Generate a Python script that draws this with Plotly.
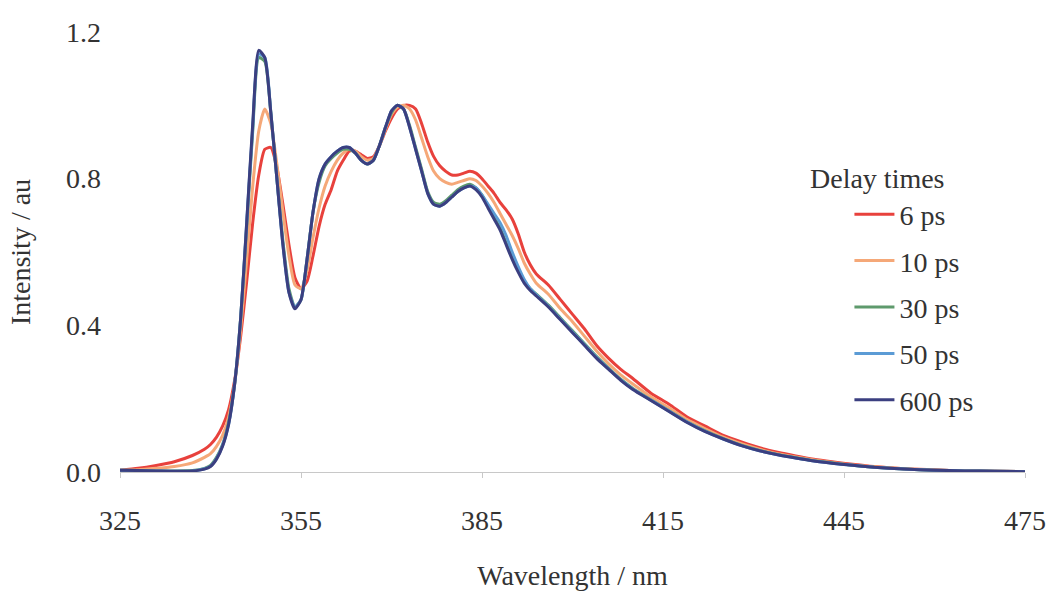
import plotly.graph_objects as go

wavelength = [325, 328, 331, 334, 337, 339, 340, 341, 342, 343, 344, 345, 346, 347, 348, 349,
              350, 351, 352, 353, 354, 355, 356, 357, 358, 359, 360, 361, 362, 363, 364, 365,
              366, 367, 368, 369, 370, 371, 372, 373, 374, 375, 376, 377, 378, 379, 380, 381,
              382, 383, 384, 385, 386, 387, 388, 389, 390, 391, 392, 393, 394, 396, 398, 400,
              402, 404, 406, 408, 410, 413, 416, 419, 422, 425, 428, 431, 434, 437, 440, 443,
              446, 450, 455, 460, 465, 470, 475]

ps6 = [0.005, 0.01, 0.018, 0.028, 0.045, 0.062, 0.075, 0.095, 0.125, 0.17, 0.25, 0.37, 0.52, 0.68, 0.81, 0.88,
       0.885, 0.83, 0.73, 0.62, 0.53, 0.50, 0.52, 0.59, 0.67, 0.73, 0.77, 0.82, 0.85, 0.875, 0.875, 0.865,
       0.855, 0.86, 0.89, 0.93, 0.965, 0.99, 1.0, 1.0, 0.99, 0.95, 0.90, 0.86, 0.835, 0.82, 0.81, 0.81,
       0.815, 0.82, 0.815, 0.80, 0.78, 0.76, 0.735, 0.715, 0.69, 0.65, 0.60, 0.565, 0.54, 0.51, 0.47, 0.43,
       0.39, 0.345, 0.31, 0.28, 0.255, 0.215, 0.185, 0.15, 0.125, 0.10, 0.082, 0.066, 0.054, 0.044, 0.035, 0.028,
       0.022, 0.015, 0.009, 0.006, 0.003, 0.002, 0.001]

ps10 = [0.005, 0.006, 0.01, 0.015, 0.025, 0.04, 0.05, 0.07, 0.10, 0.15, 0.24, 0.39, 0.58, 0.78, 0.93, 0.99,
        0.95, 0.84, 0.71, 0.59, 0.51, 0.50, 0.55, 0.64, 0.72, 0.78, 0.82, 0.85, 0.87, 0.88, 0.875, 0.86,
        0.85, 0.855, 0.89, 0.935, 0.975, 0.995, 1.0, 0.99, 0.96, 0.91, 0.86, 0.82, 0.80, 0.79, 0.785, 0.79,
        0.795, 0.80, 0.795, 0.78, 0.76, 0.735, 0.705, 0.675, 0.645, 0.61, 0.57, 0.54, 0.515, 0.485, 0.445, 0.41,
        0.37, 0.33, 0.295, 0.265, 0.24, 0.205, 0.175, 0.143, 0.118, 0.095, 0.077, 0.062, 0.05, 0.041, 0.033, 0.026,
        0.02, 0.014, 0.009, 0.005, 0.003, 0.002, 0.001]

ps30 = [0.005, 0.004, 0.003, 0.003, 0.004, 0.01, 0.018, 0.04, 0.075, 0.135, 0.24, 0.42, 0.67, 0.93, 1.13, 1.12,
        0.98, 0.80, 0.63, 0.50, 0.45, 0.47, 0.58, 0.71, 0.79, 0.835, 0.855, 0.87, 0.88, 0.88, 0.87, 0.85,
        0.84, 0.85, 0.89, 0.94, 0.98, 1.0, 0.99, 0.945, 0.885, 0.825, 0.765, 0.735, 0.73, 0.74, 0.755, 0.77,
        0.78, 0.785, 0.775, 0.755, 0.725, 0.695, 0.665, 0.625, 0.585, 0.55, 0.52, 0.50, 0.485, 0.455, 0.42, 0.385,
        0.35, 0.315, 0.283, 0.253, 0.228, 0.197, 0.167, 0.137, 0.112, 0.091, 0.073, 0.059, 0.048, 0.039, 0.031, 0.025,
        0.019, 0.013, 0.008, 0.005, 0.003, 0.002, 0.001]

ps50 = [0.005, 0.004, 0.003, 0.002, 0.003, 0.009, 0.016, 0.037, 0.072, 0.13, 0.24, 0.42, 0.68, 0.94, 1.14, 1.13,
        0.98, 0.80, 0.62, 0.49, 0.45, 0.47, 0.58, 0.71, 0.80, 0.84, 0.86, 0.875, 0.885, 0.885, 0.87, 0.85,
        0.84, 0.85, 0.89, 0.94, 0.985, 1.0, 0.99, 0.94, 0.88, 0.82, 0.76, 0.73, 0.725, 0.735, 0.75, 0.765,
        0.775, 0.78, 0.775, 0.755, 0.73, 0.705, 0.68, 0.645, 0.60, 0.56, 0.525, 0.50, 0.483, 0.452, 0.417, 0.382,
        0.347, 0.312, 0.281, 0.251, 0.226, 0.196, 0.166, 0.136, 0.111, 0.09, 0.072, 0.058, 0.047, 0.038, 0.03, 0.024,
        0.019, 0.013, 0.008, 0.005, 0.003, 0.002, 0.001]

ps600 = [0.005, 0.004, 0.003, 0.002, 0.003, 0.008, 0.015, 0.035, 0.07, 0.13, 0.24, 0.42, 0.68, 0.95, 1.15, 1.13,
         0.98, 0.80, 0.62, 0.49, 0.445, 0.47, 0.58, 0.71, 0.80, 0.84, 0.86, 0.875, 0.885, 0.885, 0.87, 0.85,
         0.84, 0.85, 0.89, 0.94, 0.985, 1.0, 0.99, 0.94, 0.88, 0.82, 0.76, 0.73, 0.725, 0.735, 0.75, 0.765,
         0.775, 0.78, 0.77, 0.75, 0.72, 0.69, 0.66, 0.62, 0.58, 0.545, 0.515, 0.495, 0.48, 0.45, 0.415, 0.38,
         0.345, 0.31, 0.28, 0.25, 0.225, 0.195, 0.165, 0.135, 0.11, 0.09, 0.072, 0.058, 0.047, 0.038, 0.03, 0.024,
         0.019, 0.013, 0.008, 0.005, 0.003, 0.002, 0.001]

series_names = ["6 ps", "10 ps", "30 ps", "50 ps", "600 ps"]
series_values = [ps6, ps10, ps30, ps50, ps600]
colors = ["#e8413c", "#f5a878", "#5e9a6c", "#5b9bd5", "#3b3f80"]

x_ticks = [325, 355, 385, 415, 445, 475]
y_ticks = [0.0, 0.4, 0.8, 1.2]
y_ticklabels = ["0.0", "0.4", "0.8", "1.2"]
legend_title = "Delay times"

FONT = "Liberation Serif"
TXT = "#333333"

fig = go.Figure()
for name, vals, col in zip(series_names, series_values, colors):
    fig.add_trace(go.Scatter(
        x=wavelength, y=vals, mode="lines", name=name,
        line=dict(color=col, width=3, shape="spline", smoothing=0.6),
        legendgroup=name,
    ))

fig.update_layout(
    width=1050, height=591,
    paper_bgcolor="white", plot_bgcolor="white",
    margin=dict(l=120, r=25, t=32, b=119),
    font=dict(family=FONT, size=28, color=TXT),
    showlegend=True,
    legend=dict(
        x=0.806, y=0.642, xanchor="left", yanchor="top",
        bgcolor="rgba(0,0,0,0)",
        font=dict(family=FONT, size=28, color=TXT),
        tracegroupgap=7, itemwidth=40,
    ),
    annotations=[dict(
        text=legend_title, x=(808 - 120) / 905, y=(472 - 178) / 440,
        xref="paper", yref="paper", xanchor="left", yanchor="middle",
        showarrow=False, font=dict(family=FONT, size=28, color=TXT),
    )],
)

fig.update_xaxes(
    range=[325, 475], tickvals=x_ticks, ticktext=[str(t) for t in x_ticks],
    showgrid=False, zeroline=False, showline=True, linecolor="#c8c8c8", linewidth=1,
    ticks="outside", ticklen=5, tickcolor="#c8c8c8", ticklabelstandoff=18,
    title=dict(text="Wavelength / nm", standoff=30, font=dict(size=28)),
    tickfont=dict(size=28), automargin=False,
)
fig.update_yaxes(
    range=[0, 1.2], tickvals=y_ticks, ticktext=y_ticklabels,
    showgrid=False, zeroline=False, showline=False,
    ticks="", ticklabelstandoff=18,
    title=dict(text="Intensity / au", standoff=27, font=dict(size=28)),
    tickfont=dict(size=28), automargin=False,
)

fig.write_html("out.html",
               config={"displayModeBar": False},
               post_script="document.body.style.margin='0';document.body.style.overflow='hidden';")
